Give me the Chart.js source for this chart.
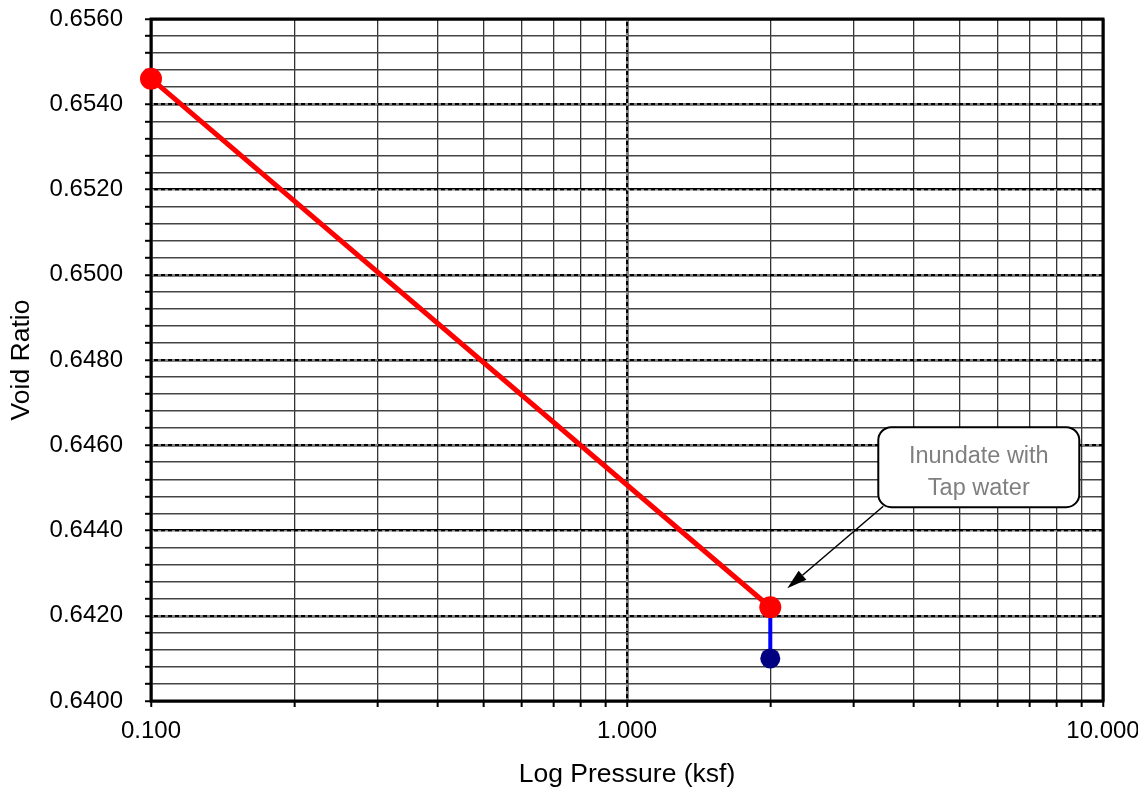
<!DOCTYPE html>
<html>
<head>
<meta charset="utf-8">
<script src="https://cdn.jsdelivr.net/npm/chart.js@4.4.1/dist/chart.umd.min.js"></script>
<style>
  html, body { margin: 0; padding: 0; background: #fff; }
  #wrap { width: 1138px; height: 789px; }
</style>
</head>
<body>
<div id="wrap"><canvas id="chart" width="1138" height="789"></canvas></div>
<script>
// consolidation test readings
var pressureLoad = [0.1, 2.0];          // ksf
var voidLoad = [0.6546, 0.6422];
var pressureInundate = [2.0, 2.0];
var voidInundate = [0.6422, 0.6410];

var xTicks = [0.1, 0.2, 0.3, 0.4, 0.5, 0.6, 0.7, 0.8, 0.9,
              1, 2, 3, 4, 5, 6, 7, 8, 9, 10];
var xLabelled = [0.1, 1, 10];
var yMin = 0.6400, yMax = 0.6560, yMinor = 0.0004, yMajor = 0.0020;
var noteLines = ['Inundate with', 'Tap water'];

function isMajorY(v){
  var k = Math.round((v - yMin) / yMajor * 1000) / 1000;
  return Math.abs(k - Math.round(k)) < 1e-6;
}
function isMajorX(v){
  return xLabelled.some(function(t){ return Math.abs(t - v) < 1e-9; });
}

function toPoints(xs, ys){
  return xs.map(function(x, i){ return {x: x, y: ys[i]}; });
}

// black major lines get white dashes on top, plus the heavy frame
var framePlugin = {
  id: 'frame',
  beforeDatasetsDraw: function(chart){
    var c = chart.ctx, a = chart.chartArea;
    var xs = chart.scales.x, ys = chart.scales.y;
    c.save();
    c.strokeStyle = '#fff';
    c.lineWidth = 1;
    c.setLineDash([3, 4]);
    ys.ticks.forEach(function(t){
      if (!isMajorY(t.value)) return;
      var y = Math.round(ys.getPixelForValue(t.value));
      c.beginPath(); c.moveTo(a.left, y); c.lineTo(a.right, y); c.stroke();
    });
    xs.ticks.forEach(function(t){
      if (!isMajorX(t.value)) return;
      var x = Math.round(xs.getPixelForValue(t.value));
      c.beginPath(); c.moveTo(x, a.top); c.lineTo(x, a.bottom); c.stroke();
    });
    c.setLineDash([]);
    c.strokeStyle = '#000';
    c.lineWidth = 3;
    c.strokeRect(a.left, a.top, a.right - a.left, a.bottom - a.top);
    c.restore();
  }
};

var notePlugin = {
  id: 'note',
  afterDraw: function(chart){
    var c = chart.ctx;
    var px = chart.scales.x.getPixelForValue(pressureLoad[1]);
    var py = chart.scales.y.getPixelForValue(voidLoad[1]);
    var bx = px + 108, by = py - 180, bw = 201, bh = 80;
    var tipX = px + 17, tipY = py - 19;
    var fromX = bx + 5, fromY = by + bh - 1;
    c.save();
    // arrow
    c.strokeStyle = '#000';
    c.fillStyle = '#000';
    c.lineWidth = 1.5;
    var ang = Math.atan2(tipY - fromY, tipX - fromX);
    var hl = 20, hw = 6;
    var baseX = tipX - hl * Math.cos(ang), baseY = tipY - hl * Math.sin(ang);
    c.beginPath(); c.moveTo(fromX, fromY); c.lineTo(baseX, baseY); c.stroke();
    c.beginPath();
    c.moveTo(tipX, tipY);
    c.lineTo(baseX + hw * Math.sin(ang), baseY - hw * Math.cos(ang));
    c.lineTo(baseX - hw * Math.sin(ang), baseY + hw * Math.cos(ang));
    c.closePath(); c.fill();
    // box
    c.beginPath();
    c.roundRect(bx, by, bw, bh, 13);
    c.fillStyle = '#fff';
    c.fill();
    c.lineWidth = 2;
    c.stroke();
    c.fillStyle = '#7f7f7f';
    c.font = '23.5px "Liberation Sans", Arial, sans-serif';
    c.textAlign = 'center';
    c.textBaseline = 'middle';
    c.fillText(noteLines[0], bx + bw / 2, by + 29);
    c.fillText(noteLines[1], bx + bw / 2, by + 61);
    c.restore();
  }
};

Chart.defaults.font.family = '"Liberation Sans", Arial, sans-serif';
Chart.defaults.color = '#000';

new Chart(document.getElementById('chart'), {
  type: 'scatter',
  data: {
    datasets: [
      {
        label: 'Loading',
        data: toPoints(pressureLoad, voidLoad),
        showLine: true,
        borderColor: '#ff0000',
        backgroundColor: '#ff0000',
        borderWidth: 5,
        pointRadius: 11,
        pointHoverRadius: 11,
        pointBorderWidth: 0,
        clip: false
      },
      {
        label: 'Inundation',
        data: toPoints(pressureInundate, voidInundate),
        showLine: true,
        borderColor: '#0000ff',
        backgroundColor: '#000080',
        borderWidth: 4,
        pointRadius: [0, 10],
        pointHoverRadius: [0, 10],
        pointBorderWidth: 0,
        clip: false
      }
    ]
  },
  options: {
    responsive: false,
    animation: false,
    layout: { padding: { top: 19, right: 35, left: 0, bottom: 0 } },
    plugins: { legend: { display: false }, tooltip: { enabled: false } },
    scales: {
      x: {
        type: 'logarithmic',
        min: 0.1,
        max: 10,
        afterBuildTicks: function(s){
          s.ticks = xTicks.map(function(v){ return {value: v}; });
        },
        afterFit: function(s){
          s.height = 88;
          s.paddingLeft = 0; s.paddingRight = 0;
          s.paddingTop = 0; s.paddingBottom = 0;
        },
        border: { display: false },
        grid: {
          color: function(ctx){ return isMajorX(ctx.tick.value) ? '#000' : '#333'; },
          lineWidth: function(ctx){ return isMajorX(ctx.tick.value) ? 2.5 : 1.3; },
          tickColor: '#000',
          tickWidth: 2,
          tickLength: 6
        },
        ticks: {
          autoSkip: false,
          maxRotation: 0,
          padding: 10,
          font: { size: 24 },
          callback: function(v){ return isMajorX(v) ? v.toFixed(3) : ''; }
        },
        title: {
          display: true,
          text: 'Log Pressure (ksf)',
          font: { size: 26.5, lineHeight: 1.05 },
          padding: { top: 0, bottom: 0 }
        }
      },
      y: {
        min: yMin,
        max: yMax,
        afterBuildTicks: function(s){
          var t = [];
          var n = Math.round((yMax - yMin) / yMinor);
          for (var i = 0; i <= n; i++) t.push({value: yMin + i * yMinor});
          s.ticks = t;
        },
        afterFit: function(s){
          s.width = 151;
          s.paddingLeft = 0; s.paddingRight = 0;
          s.paddingTop = 0; s.paddingBottom = 0;
        },
        border: { display: false },
        grid: {
          color: function(ctx){ return isMajorY(ctx.tick.value) ? '#000' : '#444'; },
          lineWidth: function(ctx){ return isMajorY(ctx.tick.value) ? 2.5 : 1.6; },
          tickColor: '#000',
          tickWidth: 2,
          tickLength: 6
        },
        ticks: {
          autoSkip: false,
          padding: 22,
          font: { size: 24 },
          callback: function(v){ return isMajorY(v) ? v.toFixed(4) : ''; }
        },
        title: {
          display: true,
          text: 'Void Ratio',
          font: { size: 26.5, lineHeight: 1.05 },
          padding: { top: 8, bottom: 0 }
        }
      }
    }
  },
  plugins: [framePlugin, notePlugin]
});
</script>
</body>
</html>
